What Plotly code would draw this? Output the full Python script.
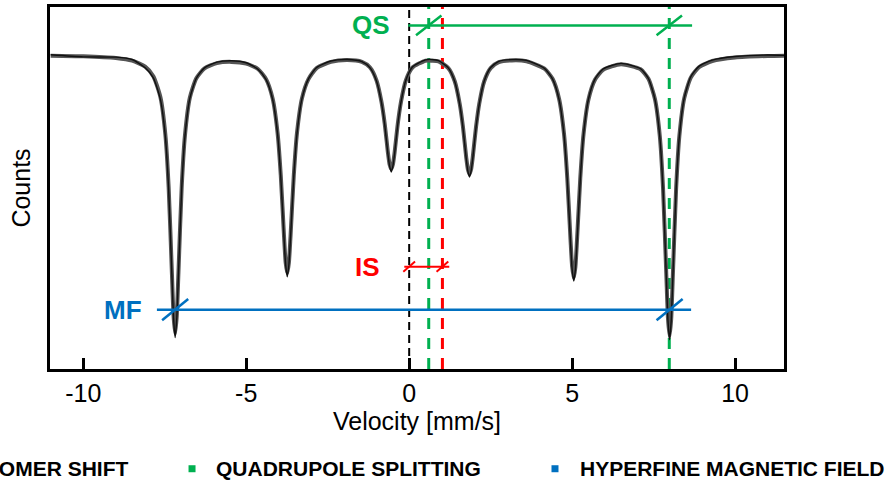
import plotly.graph_objects as go

# ---------------- data ----------------
velocity = [-11.0, -10.0, -9.0, -8.5, -8.1, -7.85, -7.63, -7.48, -7.38, -7.28, -7.23, -7.18,
            -7.13, -7.08, -6.98, -6.88, -6.73, -6.53, -6.28, -5.9, -5.45, -5.0,
            -4.64, -4.39, -4.19, -4.04, -3.94, -3.84, -3.79, -3.74, -3.69, -3.64, -3.54,
            -3.44, -3.29, -3.09, -2.84, -2.4, -1.9, -1.45, -1.2, -1.0, -0.85, -0.75,
            -0.65, -0.6, -0.55, -0.5, -0.45, -0.35, -0.25, -0.1, 0.1, 0.5, 0.7, 0.9, 1.2,
            1.4, 1.55, 1.65, 1.75, 1.8, 1.85, 1.9, 1.95, 2.05, 2.15, 2.3, 2.5, 2.75,
            3.15, 3.6, 4.15, 4.4, 4.6, 4.75, 4.85, 4.95, 5.0, 5.05, 5.1, 5.15, 5.25,
            5.35, 5.5, 5.7, 5.95, 6.5, 7.1, 7.34, 7.54, 7.69, 7.79, 7.89, 7.94, 7.99,
            8.04, 8.09, 8.19, 8.29, 8.44, 8.64, 8.89, 9.3, 10.0, 11.0, 11.5]

counts_fit = [99.9, 99.7, 99.1, 98.2, 96.2, 93.0, 85.8, 73.2, 55.6, 26.6, 12.4, 6.2,
              12.3, 26.5, 55.5, 73.0, 85.7, 92.3, 95.6, 97.4, 97.8, 97.2,
              95.4, 92.0, 85.5, 74.1, 59.6, 39.1, 30.2, 26.6, 30.2, 39.1, 59.6,
              74.1, 85.5, 92.0, 95.7, 97.8, 98.4, 97.8, 95.9, 91.5, 84.3, 76.9,
              67.0, 63.2, 61.7, 63.2, 67.0, 76.9, 84.4, 91.6, 95.9, 98.2, 98.2, 98.0, 95.7,
              91.2, 83.7, 75.9, 65.6, 61.6, 60.0, 61.6, 65.6, 75.8, 83.7, 91.2, 95.7, 97.7,
              98.3, 98.0, 95.5, 92.1, 85.3, 73.6, 58.8, 37.9, 28.8, 25.0, 28.7, 37.8, 58.7,
              73.5, 85.1, 91.8, 95.1, 97.0, 95.3, 92.1, 85.3, 72.7, 54.9, 25.8, 11.4, 5.3,
              11.4, 25.9, 55.1, 72.9, 85.6, 92.5, 96.0, 98.1, 99.3, 99.8, 99.9]

counts_data = [100.2, 99.5, 99.4, 98.6, 95.8, 92.4, 85.0, 72.5, 54.9, 25.9, 11.6, 4.9,
               11.5, 25.9, 55.0, 72.7, 85.5, 92.3, 95.8, 97.7, 98.2, 97.5,
               95.3, 91.8, 85.2, 73.8, 59.1, 38.5, 29.4, 25.4, 29.5, 38.6, 59.2,
               73.9, 85.4, 92.1, 95.9, 98.1, 98.6, 97.9, 95.8, 91.3, 84.1, 76.6,
               66.6, 62.7, 60.7, 62.7, 66.6, 76.7, 84.3, 91.7, 96.1, 98.5, 98.6, 98.2, 95.8,
               91.1, 83.5, 75.6, 65.2, 61.0, 59.0, 61.0, 65.2, 75.6, 83.6, 91.3, 95.9, 98.0,
               98.6, 98.3, 95.6, 92.0, 85.1, 73.3, 58.3, 37.2, 27.9, 23.9, 27.8, 37.1, 58.3,
               73.3, 85.2, 92.0, 95.4, 97.3, 95.5, 92.2, 85.2, 72.5, 54.5, 25.1, 10.6, 4.2,
               10.7, 25.3, 54.8, 72.8, 85.7, 92.8, 96.3, 98.4, 99.6, 100.1, 100.0]

# reference marker positions [mm/s]
zero_velocity = 0.0
isomer_shift = 1.02
qs_lines = [0.6, 7.98]
mf_lines = [-7.18, 7.99]

# annotation bars: [start, end] in velocity and their level in counts
qs_bar = [-0.03, 8.68]
qs_level = 110.1
is_bar = [-0.15, 1.23]
is_level = 28.8
mf_bar = [-7.74, 8.65]
mf_level = 14.3

y_range = [-5.7, 116.3]
x_range = [-11.02, 11.5]
tick_vals = [-10, -5, 0, 5, 10]
tick_text = ["-10", "-5", "0", "5", "10"]

legend_names = ["ISOMER SHIFT", "QUADRUPOLE SPLITTING", "HYPERFINE MAGNETIC FIELD"]

RED = "#FF0000"
GREEN = "#00B050"
BLUE = "#0070C0"
FONT = "Liberation Sans, Arial, sans-serif"

fig = go.Figure()

# vertical dashed reference lines
fig.add_trace(go.Scatter(x=[zero_velocity, zero_velocity], y=y_range, mode="lines",
                         line=dict(color="black", width=2, dash="8px,5px"), hoverinfo="skip"))
for v in qs_lines:
    fig.add_trace(go.Scatter(x=[v, v], y=y_range, mode="lines",
                             line=dict(color=GREEN, width=3, dash="11px,9px"), hoverinfo="skip"))
fig.add_trace(go.Scatter(x=[isomer_shift, isomer_shift], y=y_range, mode="lines",
                         line=dict(color=RED, width=3, dash="11px,9px"), hoverinfo="skip"))

# spectrum: fit (grey, thick) and data (black, thin)
fig.add_trace(go.Scatter(x=velocity, y=counts_fit, mode="lines",
                         line=dict(color="#555555", width=4, shape="spline", smoothing=0.6)))
fig.add_trace(go.Scatter(x=velocity, y=counts_data, mode="lines",
                         line=dict(color="#111111", width=1.4, shape="spline", smoothing=0.6)))


def bar_with_ticks(bar, level, marks, color, width, dx, dy):
    fig.add_trace(go.Scatter(x=bar, y=[level, level], mode="lines",
                             line=dict(color=color, width=width), hoverinfo="skip"))
    for m in marks:
        fig.add_trace(go.Scatter(x=[m - dx, m + dx], y=[level - dy, level + dy], mode="lines",
                                 line=dict(color=color, width=width), hoverinfo="skip"))


bar_with_ticks(qs_bar, qs_level, qs_lines, GREEN, 2.5, 0.39, 3.3)
bar_with_ticks(is_bar, is_level, [zero_velocity, isomer_shift], RED, 2, 0.18, 1.7)
bar_with_ticks(mf_bar, mf_level, mf_lines, BLUE, 2.5, 0.40, 3.6)

# bar labels
fig.add_annotation(x=-1.17, y=qs_level, text="<b>QS</b>", showarrow=False,
                   font=dict(family=FONT, size=26, color=GREEN), xanchor="center", yanchor="middle")
fig.add_annotation(x=-1.27, y=is_level, text="<b>IS</b>", showarrow=False,
                   font=dict(family=FONT, size=26, color=RED), xanchor="center", yanchor="middle")
fig.add_annotation(x=-8.78, y=mf_level, text="<b>MF</b>", showarrow=False,
                   font=dict(family=FONT, size=26, color=BLUE), xanchor="center", yanchor="middle")

# legend row (drawn as text + small square markers, cut off like the original)
legend_colors = [RED, GREEN, BLUE]
legend_marker_x = [-0.1294, 0.1935, 0.688]
legend_text_x = [-0.0995, 0.2234, 0.7193]
legend_y = -0.2755
for name, col, mx, tx in zip(legend_names, legend_colors, legend_marker_x, legend_text_x):
    fig.add_shape(type="rect", xref="paper", yref="paper", xsizemode="pixel", ysizemode="pixel",
                  xanchor=mx, yanchor=legend_y, x0=-3.5, x1=3.5, y0=-3.5, y1=3.5,
                  fillcolor=col, line=dict(width=0))
    fig.add_annotation(xref="paper", yref="paper", x=tx, y=legend_y, text="<b>" + name + "</b>",
                       showarrow=False, xanchor="left", yanchor="middle",
                       font=dict(family=FONT, size=21, color="black"))

fig.update_layout(
    width=896, height=484,
    margin=dict(l=50, r=112, t=4, b=115),
    plot_bgcolor="white", paper_bgcolor="white",
    showlegend=False,
    font=dict(family=FONT, color="black"),
)
fig.update_xaxes(range=x_range, tickvals=tick_vals, ticktext=tick_text,
                 ticks="inside", ticklen=11, tickwidth=2.5, tickcolor="black",
                 showline=True, linewidth=3, linecolor="black", mirror=True,
                 showgrid=False, zeroline=False,
                 tickfont=dict(family=FONT, size=25, color="black"),
                 title=dict(text="Velocity [mm/s]", font=dict(family=FONT, size=25, color="black"),
                            standoff=0))
fig.update_yaxes(range=y_range, showticklabels=False, ticks="",
                 showline=True, linewidth=3, linecolor="black", mirror=True,
                 showgrid=False, zeroline=False,
                 title=dict(text="Counts", font=dict(family=FONT, size=25, color="black"),
                            standoff=10))

fig.write_html("out.html")
